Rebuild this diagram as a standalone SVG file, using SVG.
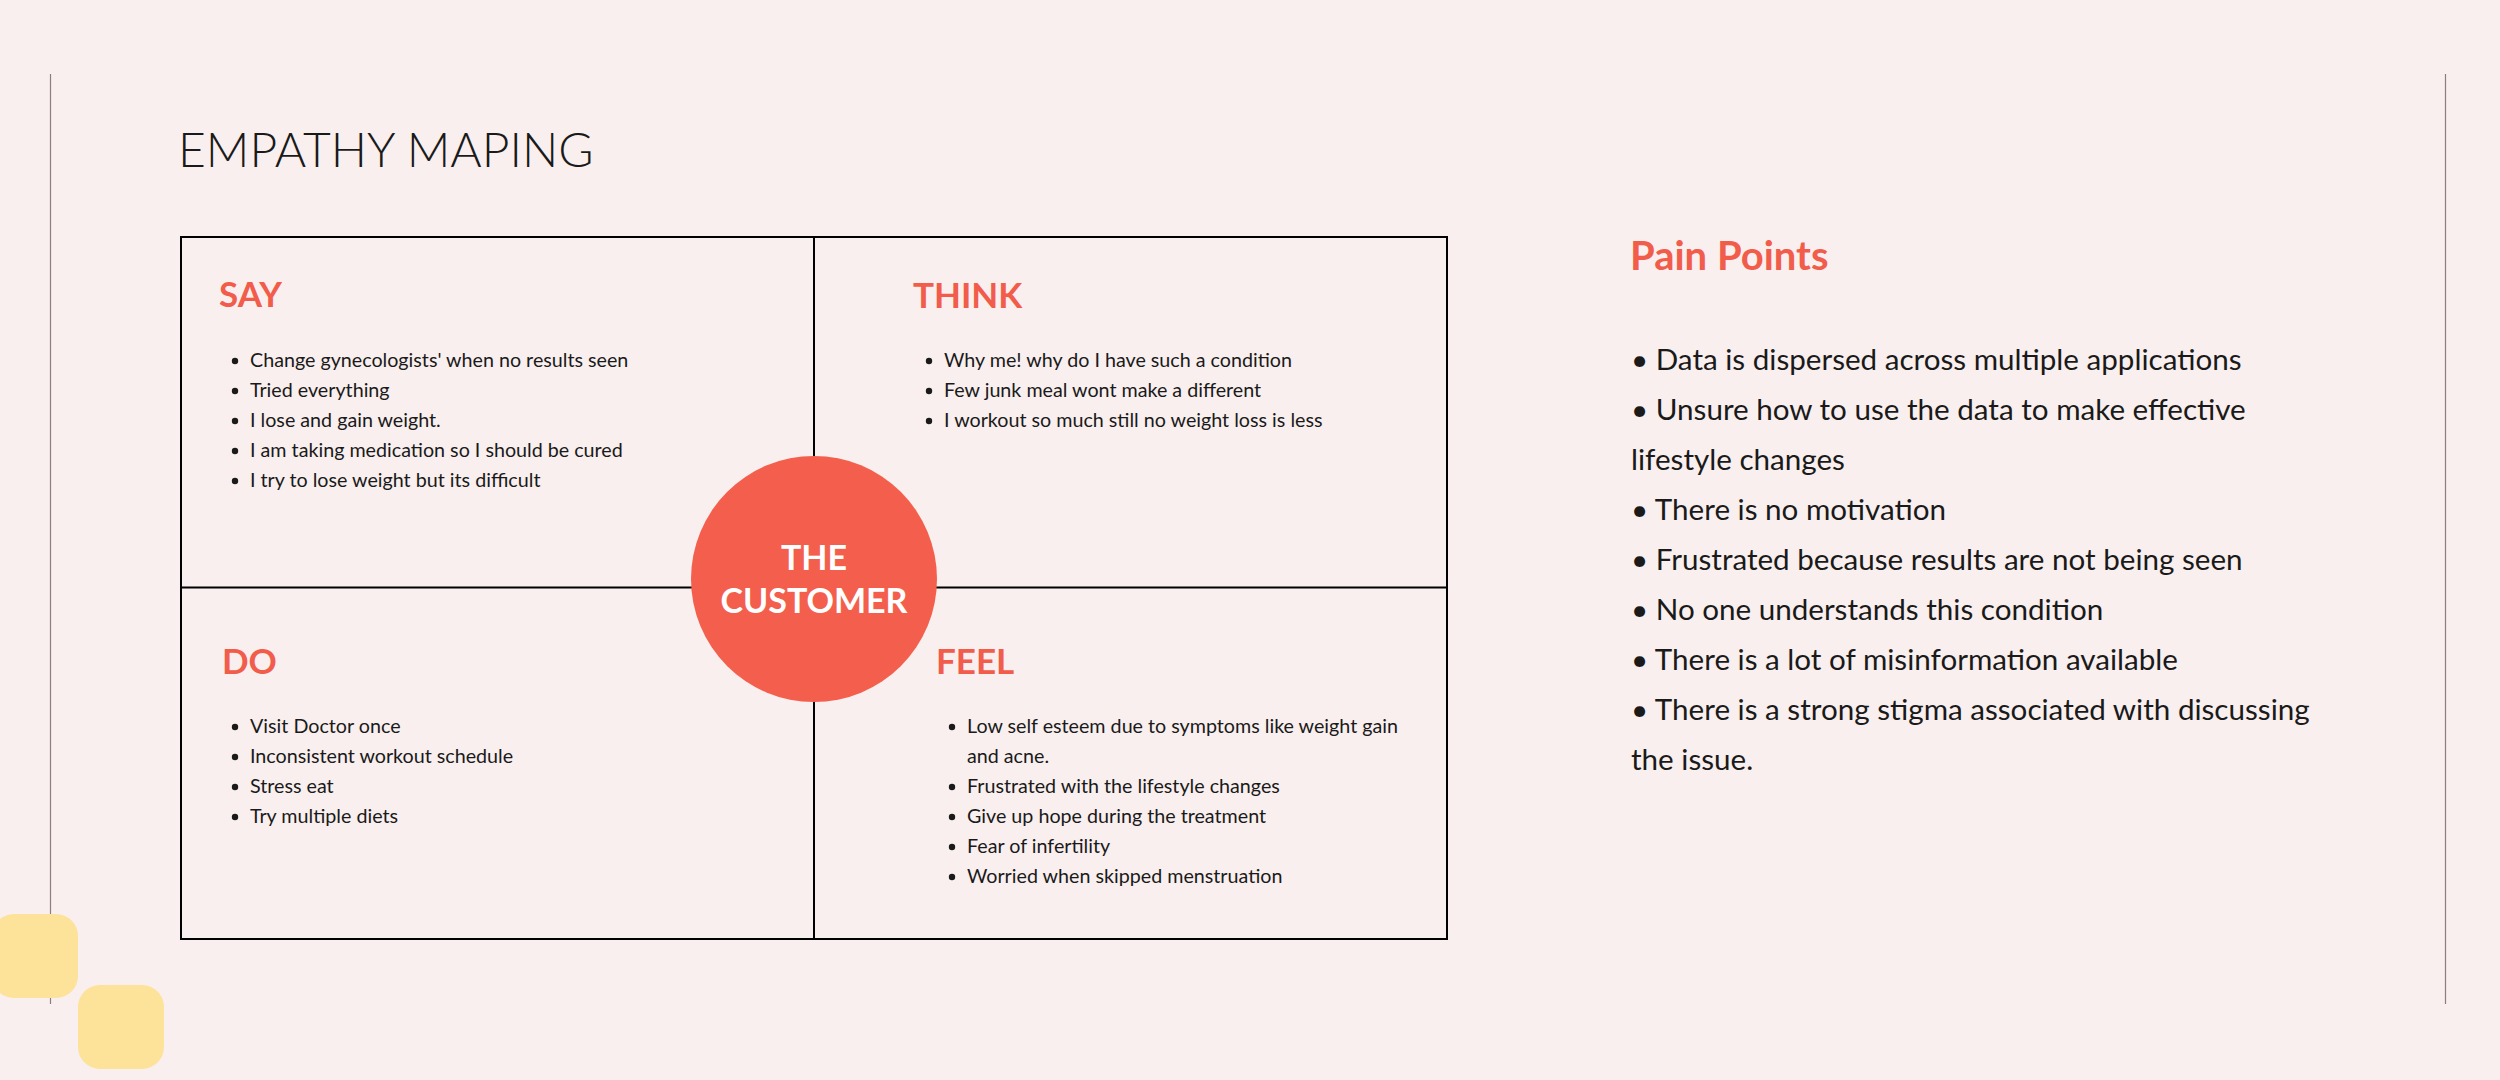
<svg xmlns="http://www.w3.org/2000/svg" width="2500" height="1080" viewBox="0 0 2500 1080">
<style>
.bg{fill:#F9EFEE}
.side{stroke:#8C7F7D;stroke-width:1.2;fill:none}
.grid{stroke:#000;stroke-width:2;fill:none}
.title{font-family:Lato,"Liberation Sans",sans-serif;font-weight:300;font-size:48px;fill:#1a1a1a}
.head{font-family:Lato,"Liberation Sans",sans-serif;font-weight:700;font-size:35px;fill:#F25C4A}
.item{font-family:Lato,"Liberation Sans",sans-serif;font-weight:400;font-size:19.7px;fill:#1a1a1a}
.dot{fill:#1a1a1a}
.pain{font-family:Lato,"Liberation Sans",sans-serif;font-weight:400;font-size:29.6px;fill:#1a1a1a}
.painh{font-family:Lato,"Liberation Sans",sans-serif;font-weight:700;font-size:40px;fill:#F25C4A}
.cust{font-family:Lato,"Liberation Sans",sans-serif;font-weight:700;font-size:34px;fill:#fff}
.deco{fill:#FDE29A}
</style>
<rect class="bg" x="0" y="0" width="2500" height="1080"/>
<g id="frame">
<line class="side" x1="50.5" y1="74" x2="50.5" y2="1004"/>
<line class="side" x1="2445.5" y1="74" x2="2445.5" y2="1004"/>
<rect class="deco" x="-8" y="914" width="86" height="84" rx="22"/>
<rect class="deco" x="78" y="985" width="86" height="84" rx="22"/>
</g>
<text id="title" class="title" x="178" y="167">EMPATHY MAPING</text>
<g id="connectors">
<rect class="grid" x="181" y="237" width="1266" height="702"/>
<line class="grid" x1="814" y1="237" x2="814" y2="939"/>
<line class="grid" x1="181" y1="587.5" x2="1447" y2="587.5"/>
</g>
<g id="say">
<text class="head" x="219" y="307">SAY</text>
<g class="item">
<text x="250" y="367">Change gynecologists' when no results seen</text>
<text x="250" y="397">Tried everything</text>
<text x="250" y="427">I lose and gain weight.</text>
<text x="250" y="457">I am taking medication so I should be cured</text>
<text x="250" y="487">I try to lose weight but its difficult</text>
</g>
<circle class="dot" cx="235" cy="361" r="3.2"/>
<circle class="dot" cx="235" cy="391" r="3.2"/>
<circle class="dot" cx="235" cy="421" r="3.2"/>
<circle class="dot" cx="235" cy="451" r="3.2"/>
<circle class="dot" cx="235" cy="481" r="3.2"/>
</g>
<g id="think">
<text class="head" x="913" y="308">THINK</text>
<g class="item">
<text x="944" y="367">Why me! why do I have such a condition</text>
<text x="944" y="397">Few junk meal wont make a different</text>
<text x="944" y="427">I workout so much still no weight loss is less</text>
</g>
<circle class="dot" cx="929" cy="361" r="3.2"/>
<circle class="dot" cx="929" cy="391" r="3.2"/>
<circle class="dot" cx="929" cy="421" r="3.2"/>
</g>
<g id="do">
<text class="head" x="222" y="674">DO</text>
<g class="item">
<text x="250" y="733">Visit Doctor once</text>
<text x="250" y="763">Inconsistent workout schedule</text>
<text x="250" y="793">Stress eat</text>
<text x="250" y="823">Try multiple diets</text>
</g>
<circle class="dot" cx="235" cy="727" r="3.2"/>
<circle class="dot" cx="235" cy="757" r="3.2"/>
<circle class="dot" cx="235" cy="787" r="3.2"/>
<circle class="dot" cx="235" cy="817" r="3.2"/>
</g>
<g id="feel">
<text class="head" x="936" y="674">FEEL</text>
<g class="item">
<text x="967" y="733">Low self esteem due to symptoms like weight gain</text>
<text x="967" y="763">and acne.</text>
<text x="967" y="793">Frustrated with the lifestyle changes</text>
<text x="967" y="823">Give up hope during the treatment</text>
<text x="967" y="853">Fear of infertility</text>
<text x="967" y="883">Worried when skipped menstruation</text>
</g>
<circle class="dot" cx="952" cy="727" r="3.2"/>
<circle class="dot" cx="952" cy="787" r="3.2"/>
<circle class="dot" cx="952" cy="817" r="3.2"/>
<circle class="dot" cx="952" cy="847" r="3.2"/>
<circle class="dot" cx="952" cy="877" r="3.2"/>
</g>
<g id="customer">
<circle cx="814" cy="579" r="123" fill="#F45F4D"/>
<text class="cust" x="814" y="570" text-anchor="middle">THE</text>
<text class="cust" x="814" y="613" text-anchor="middle">CUSTOMER</text>
</g>
<g id="pain-points">
<text class="painh" x="1630" y="270">Pain Points</text>
<g class="pain">
<text x="1631" y="370">• Data is dispersed across multiple applications</text>
<text x="1631" y="420">• Unsure how to use the data to make effective</text>
<text x="1631" y="470">lifestyle changes</text>
<text x="1631" y="520">• There is no motivation</text>
<text x="1631" y="570">• Frustrated because results are not being seen</text>
<text x="1631" y="620">• No one understands this condition</text>
<text x="1631" y="670">• There is a lot of misinformation available</text>
<text x="1631" y="720">• There is a strong stigma associated with discussing</text>
<text x="1631" y="770">the issue.</text>
</g>
</g>
</svg>
